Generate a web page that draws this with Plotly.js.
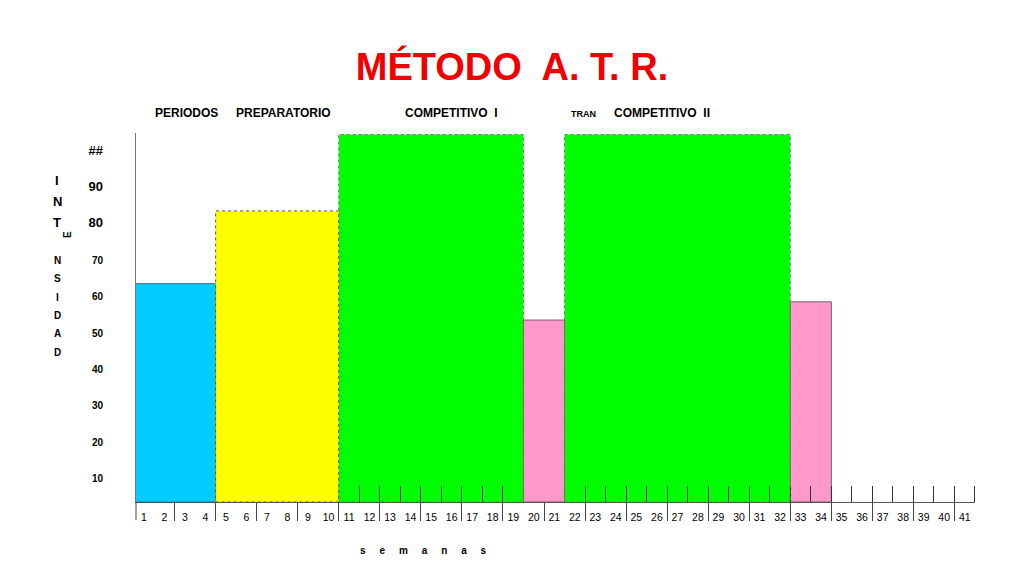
<!DOCTYPE html>
<html>
<head>
<meta charset="utf-8">
<script src="https://cdn.plot.ly/plotly-3.0.1.min.js"></script>
<style>
  body { margin: 0; background: #fff; }
  #chart { width: 1024px; height: 576px; }
</style>
</head>
<body>
<div id="chart"></div>
<script>
// semanas del macrociclo
var weeks = [];
for (var w = 1; w <= 41; w++) weeks.push(w);

// bloques A.T.R. (semana inicial, semana final, intensidad)
var blockNames = ['Acumulación', 'Transformación', 'Competitivo I', 'Tránsito', 'Competitivo II', 'Tránsito'];
var blockStart = [1, 5, 11, 20, 22, 33];
var blockEnd = [4, 10, 19, 21, 32, 34];
var blockValue = [60, 80, 101, 50, 101, 55];

// eje de intensidad
var intensityTicks = [10, 20, 30, 40, 50, 60, 70, 80, 90, 100];
var intensityLabels = ['10', '20', '30', '40', '50', '60', '70', '80', '90', '##'];

var blockColors = ['#00ccff', '#ffff00', '#00ff00', '#ff99cc', '#00ff00', '#ff99cc'];
var blockLines = ['#2f6f8f', '#555555', '#777777', '#7a5a6a', '#777777', '#7a5a6a'];
var dotted = [false, true, true, false, true, false];
// bloques que quedan debajo de las marcas semanales
var underTicks = [false, false, true, false, true, true];

function blockTrace(under) {
    var t = {
        type: 'bar', x: [], y: [], width: [], hovertext: [],
        textposition: 'none',
        marker: { color: [], line: { color: [], width: [] } },
        hoverinfo: 'text', showlegend: false
    };
    for (var i = 0; i < blockStart.length; i++) {
        if (underTicks[i] !== under) continue;
        t.x.push((blockStart[i] + blockEnd[i]) / 2);
        t.width.push(blockEnd[i] - blockStart[i] + 1);
        t.y.push(blockValue[i]);
        t.hovertext.push(blockNames[i]);
        t.marker.color.push(blockColors[i]);
        t.marker.line.color.push(blockLines[i]);
        t.marker.line.width.push(dotted[i] ? 0 : 1);
    }
    return t;
}

// marcas de cada semana sobre el eje
var tickX = [0.5].concat(weeks.map(function(w) { return w + 0.5; }));
var weekTicks = {
    type: 'bar',
    x: tickX,
    y: tickX.map(function() { return 4.3; }),
    width: tickX.map(function() { return 0.05; }),
    textposition: 'none',
    marker: { color: '#333333', line: { width: 0 } },
    hoverinfo: 'skip', showlegend: false
};

var data = [blockTrace(true), weekTicks, blockTrace(false)];

// contornos punteados
var shapes = [];
for (var i = 0; i < blockStart.length; i++) {
    if (!dotted[i]) continue;
    shapes.push({
        type: 'rect', xref: 'x', yref: 'y', layer: 'above',
        x0: blockStart[i] - 0.5, x1: blockEnd[i] + 0.5, y0: 0, y1: blockValue[i],
        line: { color: blockLines[i], width: 1, dash: 'dot' },
        fillcolor: 'rgba(0,0,0,0)'
    });
}

// posiciones en píxeles -> papel
var L = 136, R = 975, T = 133, B = 502;
function px(x) { return (x - L) / (R - L); }
function py(y) { return (B - y) / (B - T); }

// divisor izquierdo bajo el eje
shapes.push({
    type: 'line', xref: 'paper', yref: 'paper',
    x0: 0, x1: 0, y0: 0, y1: py(520),
    line: { color: '#444444', width: 1 }
});

var annotations = [];
function label(text, x, y, size, extra) {
    var a = {
        text: text, xref: 'paper', yref: 'paper', x: px(x), y: py(y),
        showarrow: false, xanchor: 'center', yanchor: 'middle',
        font: { family: 'Arial, Liberation Sans', size: size, color: '#000' }
    };
    for (var k in extra) a[k] = extra[k];
    annotations.push(a);
}

label('<b>PERIODOS</b>', 186, 113, 12);
label('<b>PREPARATORIO</b>', 283, 113, 12);
label('<b>COMPETITIVO  I</b>', 451, 113, 12);
label('<b>TRAN</b>', 583, 114, 9);
label('<b>COMPETITIVO  II</b>', 662, 113, 12);

var bigLetters = [['I', 180], ['N', 201], ['T', 222]];
bigLetters.forEach(function(l) { label('<b>' + l[0] + '</b>', 57, l[1], 13); });
label('<b>E</b>', 67, 235, 10, { textangle: -90 });
var smallLetters = [['N', 260], ['S', 278], ['I', 297], ['D', 315], ['A', 333], ['D', 352]];
smallLetters.forEach(function(l) { label('<b>' + l[0] + '</b>', 57, l[1], 10); });

label('<b>s     e     m     a     n     a     s</b>', 423, 550, 10);

var tickText = intensityLabels.map(function(s, i) {
    var size = i >= 7 ? 13 : 10;
    return '<span style="font-size:' + size + 'px"><b>' + s + '</b></span>';
});

var layout = {
    width: 1024,
    height: 576,
    margin: { l: L, r: 1024 - R, t: T, b: 576 - B },
    paper_bgcolor: '#ffffff',
    plot_bgcolor: '#ffffff',
    barmode: 'overlay',
    bargap: 0,
    title: {
        text: '<b>MÉTODO  A. T. R.</b>',
        font: { family: 'Arial, Liberation Sans', size: 38, color: '#f00000' },
        x: 0.5, xref: 'container', xanchor: 'center',
        y: 59, yref: 'container', yanchor: 'middle'
    },
    xaxis: {
        range: [0.62, 41.5],
        tickmode: 'array',
        tickvals: weeks,
        ticktext: weeks.map(String),
        ticks: '',
        ticklabelstandoff: 5,
        tickfont: { family: 'Arial, Liberation Sans', size: 10.5, color: '#000' },
        showline: true,
        linecolor: '#555555',
        linewidth: 1,
        showgrid: false,
        zeroline: false,
        minor: {
            tickmode: 'linear', tick0: 0.5, dtick: 2,
            ticks: 'outside', ticklen: 18, tickwidth: 1, tickcolor: '#444444',
            showgrid: false
        },
        fixedrange: true
    },
    yaxis: {
        range: [0, 101.4],
        tickmode: 'array',
        tickvals: intensityTicks,
        ticktext: tickText,
        ticks: '',
        ticklabelstandoff: 30,
        ticklabelshift: 13,
        tickfont: { family: 'Arial, Liberation Sans', size: 10, color: '#000' },
        showline: true,
        linecolor: '#777777',
        linewidth: 1,
        showgrid: false,
        zeroline: false,
        fixedrange: true
    },
    shapes: shapes,
    annotations: annotations
};

Plotly.newPlot('chart', data, layout, { displayModeBar: false, staticPlot: true });
</script>
</body>
</html>
